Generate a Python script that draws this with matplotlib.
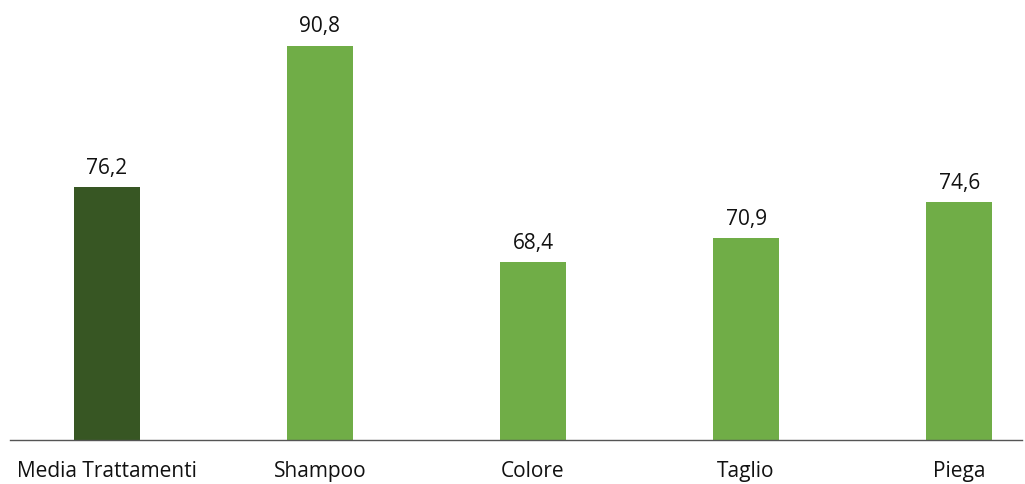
import matplotlib.pyplot as plt

categories = ["Media Trattamenti", "Shampoo", "Colore", "Taglio", "Piega"]
values = [76.2, 90.8, 68.4, 70.9, 74.6]
labels = ["76,2", "90,8", "68,4", "70,9", "74,6"]
colors = ["#375623", "#70AD47", "#70AD47", "#70AD47", "#70AD47"]

plt.rcParams['font.family'] = ['Open Sans', 'DejaVu Sans']

fig = plt.figure(figsize=(10.25, 4.84), dpi=100)
ax = fig.add_axes([10 / 1025, 44 / 484, 1012 / 1025, 435 / 484])

x = range(len(categories))
bars = ax.bar(x, values, width=0.31, color=colors, zorder=2)
for b, lab in zip(bars, labels):
    ax.text(b.get_x() + b.get_width() / 2, b.get_height() + 0.85, lab,
            ha='center', va='bottom', fontsize=15, color='#111111')

ax.set_ylim(50, 95)
ax.set_xlim(-0.455, 4.295)
ax.set_xticks(list(x))
ax.set_xticklabels(categories, fontsize=15, color='#111111')
ax.tick_params(axis='x', length=0, pad=15)
ax.set_yticks([])
for s in ['top', 'right', 'left']:
    ax.spines[s].set_visible(False)
ax.spines['bottom'].set_color('#555555')
ax.spines['bottom'].set_linewidth(1.0)

fig.savefig("out.png", dpi=100)
